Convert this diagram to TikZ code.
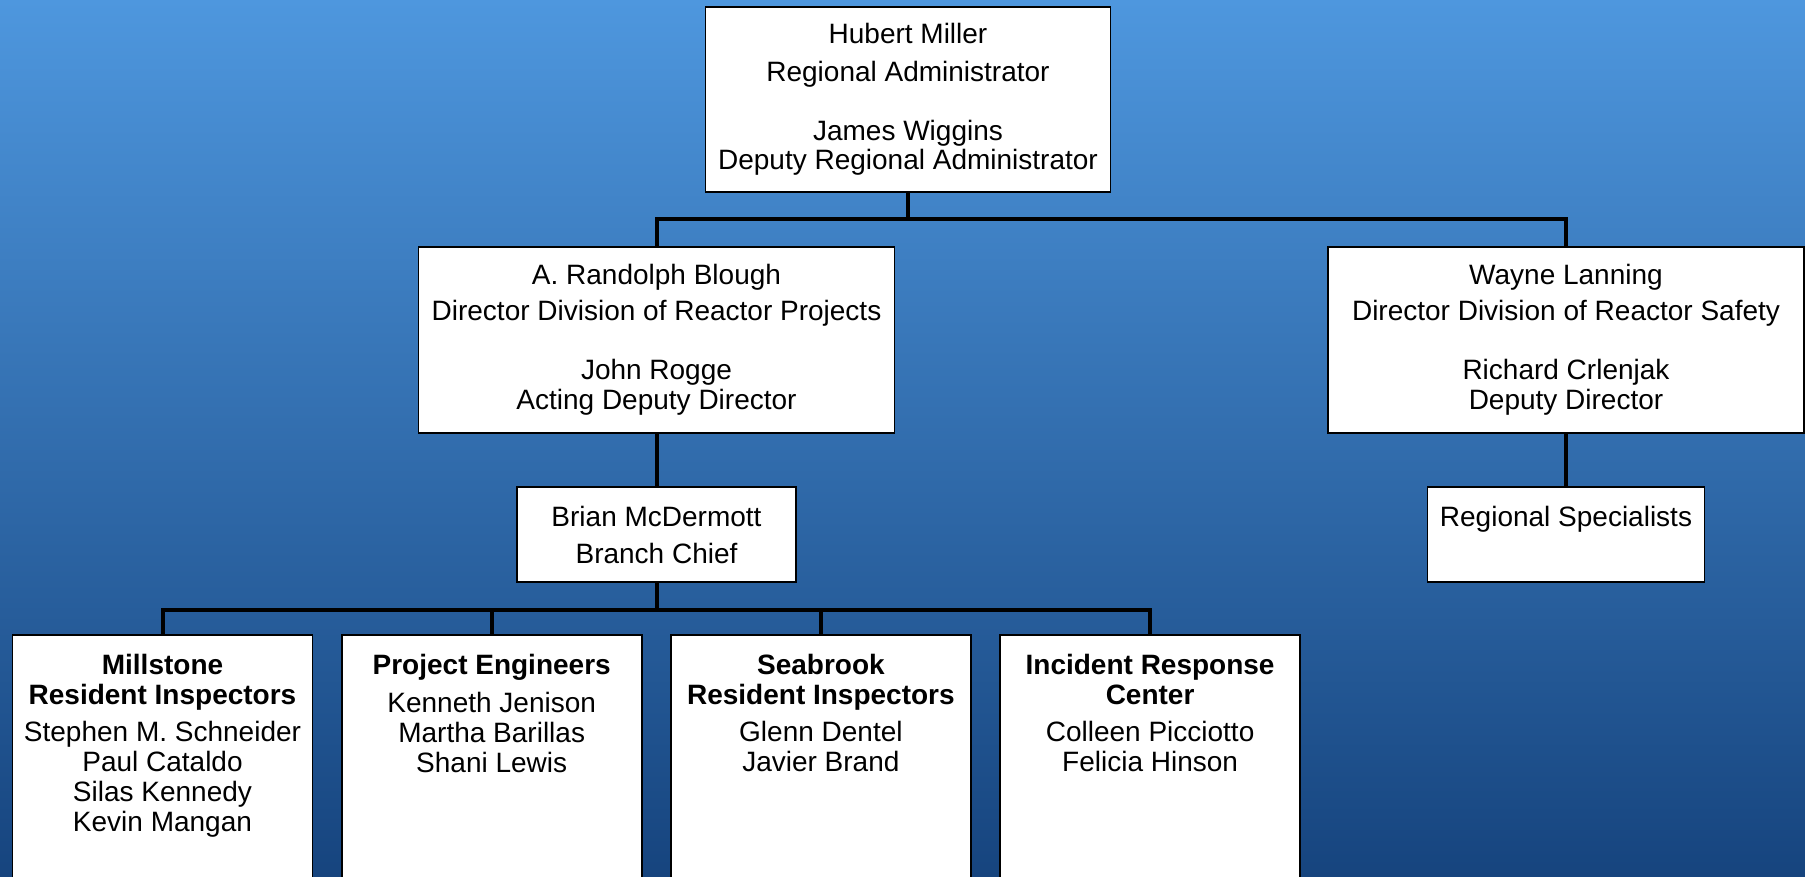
\documentclass[tikz,border=0pt]{standalone}
\usepackage{fontspec}
\setmainfont{Liberation Sans}
\usetikzlibrary{positioning}
\definecolor{bgtop}{RGB}{78,151,222}
\definecolor{bgbot}{RGB}{22,68,126}
\newcommand{\unittext}[2]{\parbox[t][#1][t]{290pt}{\centering #2}}

\begin{document}
\begin{tikzpicture}[x=1pt, y=-1pt, on grid, font=\fontsize{28}{30}\selectfont,
    unit/.style={draw=black, line width=1.6pt, fill=white, inner sep=0pt, align=center},
    team/.style={unit, minimum width=300pt, inner ysep=19.5pt},
    link/.style={line width=4pt, black}]
    \useasboundingbox (0,0) rectangle (1805,877);
    \shade[top color=bgtop, bottom color=bgbot] (0,0) rectangle (1805,877);
    \node[unit, minimum width=405pt, minimum height=185pt] (admin) at (908,99.5)
    {Hubert Miller\\[8pt]Regional Administrator\\[29pt]James Wiggins\\[-1pt]Deputy Regional Administrator};%
    \node[unit, minimum width=476pt, minimum height=186pt] (drp) [below left=240.5pt and 251.5pt of admin]
    {A. Randolph Blough\\[6pt]Director Division of Reactor Projects\\[29pt]John Rogge\\Acting Deputy Director};%
    \node[unit, minimum width=476pt, minimum height=186pt] (drs) [below right=240.5pt and 658pt of admin]
    {Wayne Lanning\\[6pt]Director Division of Reactor Safety\\[29pt]Richard Crlenjak\\Deputy Director};%
    \node[unit, minimum width=279pt, minimum height=95pt] (branch) [below=194.5pt of drp]
    {Brian McDermott\\[7pt]Branch Chief};%
    \node[unit, minimum width=277pt, minimum height=95pt] (spec) [below=194.5pt of drs]
    {Regional Specialists\\[7pt]\mbox{}};%
    % resident offices, cut off at the bottom
    \node[team, anchor=north] (mill) at (162.5,634) {\unittext{260pt}{\textbf{Millstone\\Resident Inspectors}\\[7pt]
    Stephen M. Schneider\\Paul Cataldo\\Silas Kennedy\\Kevin Mangan}};%
    \node[team] (pe) [right=329.2pt of mill] {\unittext{260pt}{\textbf{Project Engineers}\\[8pt]
    Kenneth Jenison\\Martha Barillas\\Shani Lewis}};%
    \node[team] (sea) [right=329.2pt of pe] {\unittext{260pt}{\textbf{Seabrook\\Resident Inspectors}\\[7pt]
    Glenn Dentel\\Javier Brand}};%
    \node[team] (irc) [right=329.2pt of sea] {\unittext{260pt}{\textbf{Incident Response\\Center}\\[7pt]
    Colleen Picciotto\\Felicia Hinson}};%
    \coordinate (topbus) at (908,219);
    \coordinate (lowbus) at (656.5,609.5);
    \draw[link] (admin.south) -- (topbus);%
    \draw[link] (drp.north) |- (topbus) -| (drs.north);%
    \path[link] (drp) edge (branch)%
    (drs) edge (spec);%
    \draw[link] (branch.south) -- (lowbus);%
    \draw[link] (mill.north) |- (lowbus) -| (irc.north);%
    \draw[link] (pe.north) -- (pe.north |- lowbus);%
    \draw[link] (sea.north) -- (sea.north |- lowbus);%
  \end{tikzpicture}
\end{document}
